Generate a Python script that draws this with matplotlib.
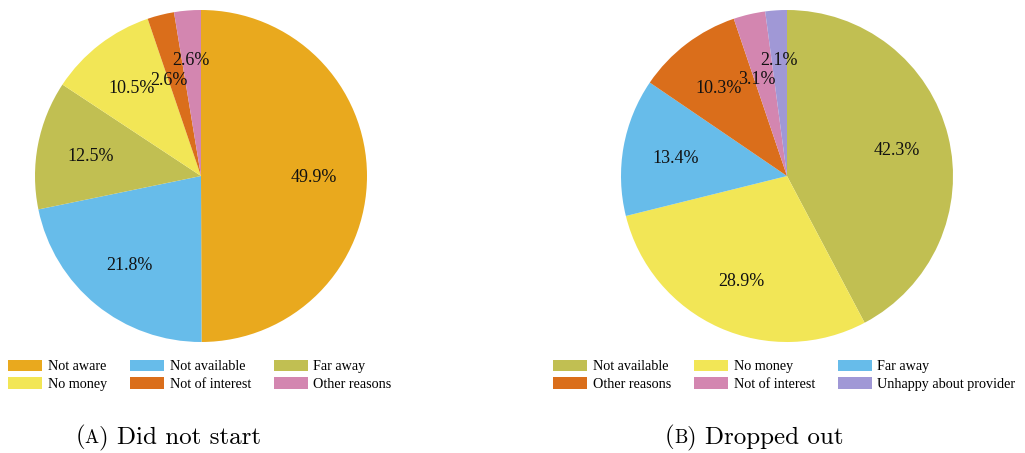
import numpy as np
import matplotlib.pyplot as plt
from matplotlib.patches import Patch

# data
start_labels = ["Not aware", "Not available", "Far away", "No money", "Not of interest", "Other reasons"]
start_values = [49.9, 21.8, 12.5, 10.5, 2.6, 2.6]
start_colors = ["#E9A91E", "#67BCEA", "#C1BF52", "#F2E656", "#DA6E1B", "#D386B0"]

drop_labels = ["Not available", "No money", "Far away", "Other reasons", "Not of interest", "Unhappy about provider"]
drop_values = [42.3, 28.9, 13.4, 10.3, 3.1, 2.1]
drop_colors = ["#C1BF52", "#F2E656", "#67BCEA", "#DA6E1B", "#D386B0", "#A098D6"]

W, H = 1025, 453
fig = plt.figure(figsize=(W / 100, H / 100), dpi=100)
serif = "Liberation Serif"
# label distance from centre, thin slices staggered so the labels don't collide
label_r = [0.68, 0.68, 0.68, 0.68, 0.62, 0.71]
label_shift = [0, 0, 0, 0, 4, 0]  # degrees


def caption(cx, letter, rest):
    # "(A) text" with the letter in small caps, centred on cx
    y = 1 - 443 / H
    parts = [("(", 18), (letter, 13.5), (") " + rest, 18)]
    texts = [fig.text(0, y, s, fontfamily="cmr10", fontsize=fs, va="baseline")
             for s, fs in parts]
    r = fig.canvas.get_renderer()
    widths = [t.get_window_extent(r).width for t in texts]
    x = cx - sum(widths) / 2
    for t, w in zip(texts, widths):
        t.set_x(x / W)
        x += w


def pie_panel(x0, labels, values, colors, legend_x):
    ax = fig.add_axes([x0 / W, (H - 342) / H, 332 / W, 332 / H])
    wedges, _, autotexts = ax.pie(values, colors=colors, startangle=90, counterclock=False,
                                  autopct=lambda p: "%.1f%%" % p, pctdistance=0.68,
                                  wedgeprops=dict(linewidth=0),
                                  textprops=dict(fontfamily=serif, fontsize=13, color="#111111"))
    for w, t, rr, sh in zip(wedges, autotexts, label_r, label_shift):
        ang = np.deg2rad((w.theta1 + w.theta2) / 2 + sh)
        t.set_position((rr * np.cos(ang), rr * np.sin(ang)))
        t.set_va("center_baseline")
    ax.set_xlim(-1, 1)
    ax.set_ylim(-1, 1)
    ax.set_aspect("equal")
    # legend rows are filled left-to-right, matplotlib fills by column
    order = [0, 3, 1, 4, 2, 5]
    handles = [Patch(facecolor=colors[i], edgecolor="none") for i in order]
    fig.legend(handles, [labels[i] for i in order], ncol=3, frameon=False,
               loc="upper left", bbox_to_anchor=(legend_x / W, 1 - 359.5 / H),
               borderpad=0, borderaxespad=0, handlelength=2.4, handleheight=0.9,
               handletextpad=0.4, columnspacing=1.62, labelspacing=0.28,
               prop=dict(family=serif, size=10.2))


pie_panel(35, start_labels, start_values, start_colors, 8)
pie_panel(621, drop_labels, drop_values, drop_colors, 553)
caption(168, "A", "Did not start")
caption(754, "B", "Dropped out")

fig.savefig("out.png", dpi=100)
